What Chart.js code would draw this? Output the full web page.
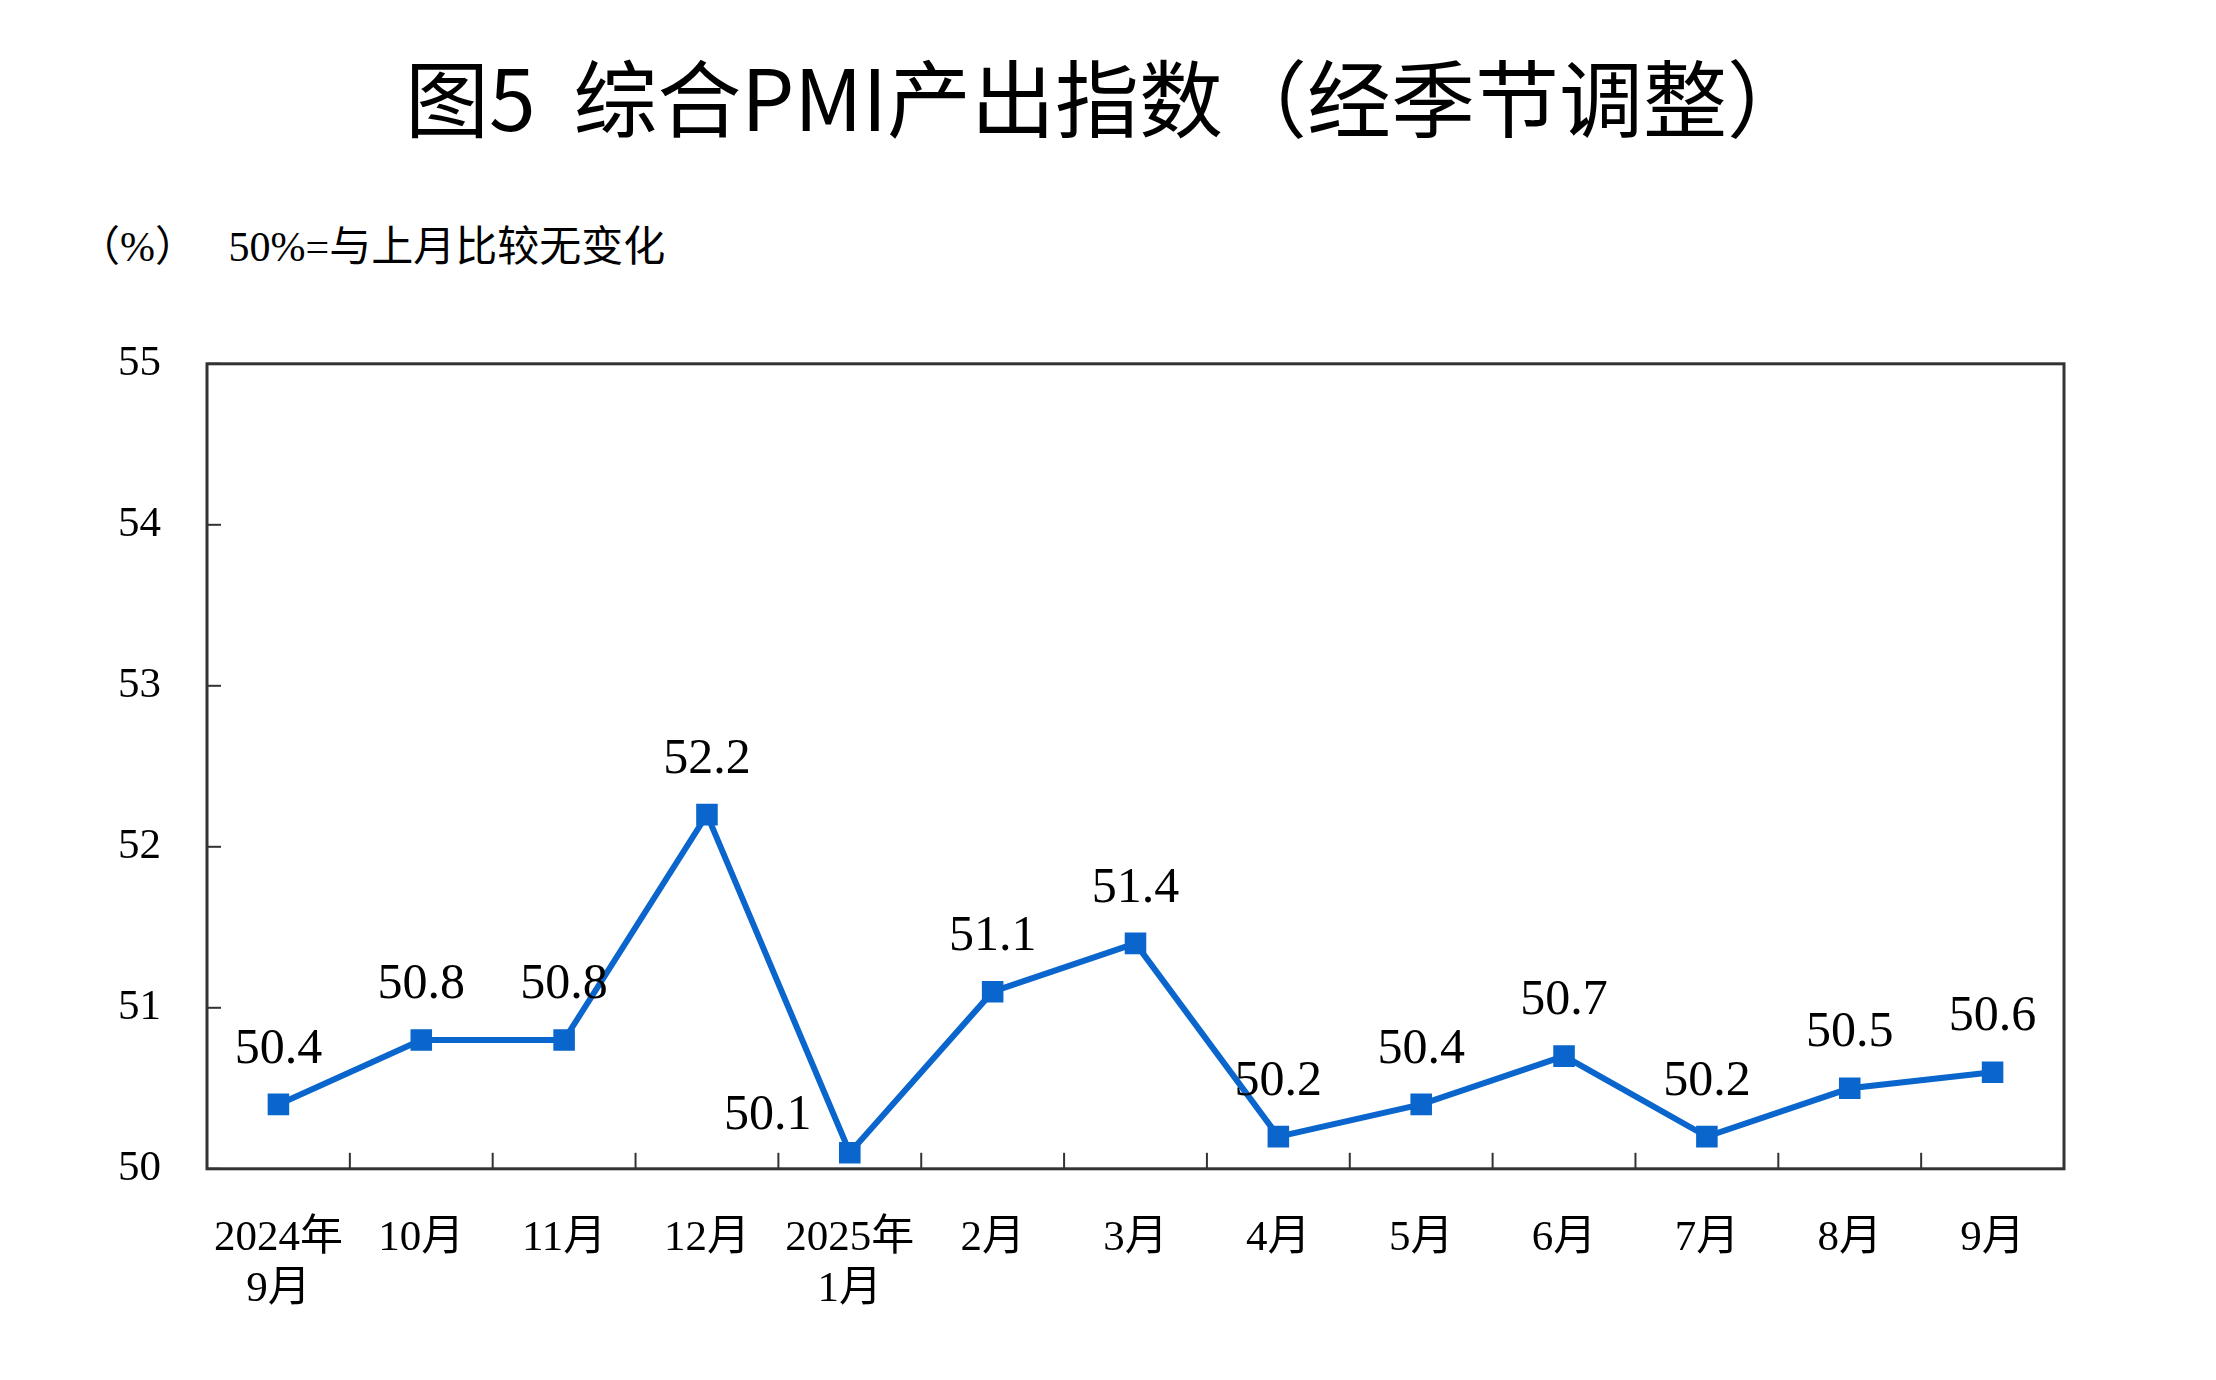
<!DOCTYPE html>
<html><head><meta charset="utf-8">
<script src="https://cdn.jsdelivr.net/npm/chart.js@4"></script>
<style>
body{margin:0;background:#fff;width:2216px;height:1380px;overflow:hidden;font-family:"Liberation Serif","Noto Sans CJK SC",serif}
#title{position:absolute;left:0;width:2216px;top:34px;text-align:center;font:84px "Noto Sans CJK SC",sans-serif;color:#000}
#unit{position:absolute;left:78px;top:212px;font:42px "Liberation Serif","Noto Sans CJK SC";color:#000;white-space:pre}
#wrap{position:absolute;left:0;top:300px;width:2216px;height:1060px}
</style></head><body>
<div id="title">图5&nbsp;&nbsp;综合PMI产出指数（经季节调整）</div>
<div id="unit">（%）   50%=与上月比较无变化</div>
<div id="wrap"><canvas id="c"></canvas></div>
<script>
const labels = [["2024年","9月"],"10月","11月","12月",["2025年","1月"],"2月","3月","4月","5月","6月","7月","8月","9月"];
const values = [50.4,50.8,50.8,52.2,50.1,51.1,51.4,50.2,50.4,50.7,50.2,50.5,50.6];
const yTicks = [50,51,52,53,54,55];
const blue = "#0a66cc";
const serif = "Liberation Serif, Noto Sans CJK SC";

const extras = {
  id: "extras",
  afterDraw(chart) {
    const {ctx, chartArea: a, scales: {x, y}} = chart;
    ctx.save();
    ctx.strokeStyle = "#333";
    ctx.lineWidth = 3;
    ctx.strokeRect(a.left, a.top, a.right - a.left, a.bottom - a.top);
    ctx.lineWidth = 2;
    for (let i = 1; i < labels.length; i++) {
      const px = (x.getPixelForValue(i - 1) + x.getPixelForValue(i)) / 2;
      ctx.beginPath(); ctx.moveTo(px, a.bottom); ctx.lineTo(px, a.bottom - 16); ctx.stroke();
    }
    yTicks.forEach(v => {
      const py = y.getPixelForValue(v);
      ctx.beginPath(); ctx.moveTo(a.left, py); ctx.lineTo(a.left + 14, py); ctx.stroke();
    });
    ctx.fillStyle = "#000";
    ctx.font = "50px " + serif;
    ctx.textAlign = "center";
    ctx.textBaseline = "bottom";
    values.forEach((v, i) => {
      const px = x.getPixelForValue(i), py = y.getPixelForValue(v);
      let dx = 0, dy = -30;
      if (i === 4) { dx = -82; dy = -12; }
      ctx.fillText(v.toFixed(1), px + dx, py + dy);
    });
    ctx.restore();
  }
};

new Chart(document.getElementById("c"), {
  type: "line",
  data: {
    labels: labels,
    datasets: [{
      data: values,
      borderColor: blue,
      backgroundColor: blue,
      borderWidth: 6,
      pointStyle: "rect",
      pointRadius: 11,
      pointHoverRadius: 11,
      tension: 0
    }]
  },
  options: {
    responsive: true,
    maintainAspectRatio: false,
    animation: false,
    layout: { padding: { left: 80, right: 152, top: 0, bottom: 8 } },
    plugins: { legend: { display: false }, tooltip: { enabled: false } },
    scales: {
      x: {
        offset: true,
        grid: { display: false },
        border: { display: false },
        ticks: { color: "#000", font: { family: serif, size: 43 }, padding: 36, maxRotation: 0, autoSkip: false }
      },
      y: {
        min: 50, max: 55,
        afterBuildTicks: s => { s.ticks = yTicks.map(v => ({ value: v })); },
        grid: { display: false },
        border: { display: false },
        ticks: { color: "#000", font: { family: serif, size: 43 }, padding: 38 }
      }
    }
  },
  plugins: [extras]
});
</script>
</body></html>
